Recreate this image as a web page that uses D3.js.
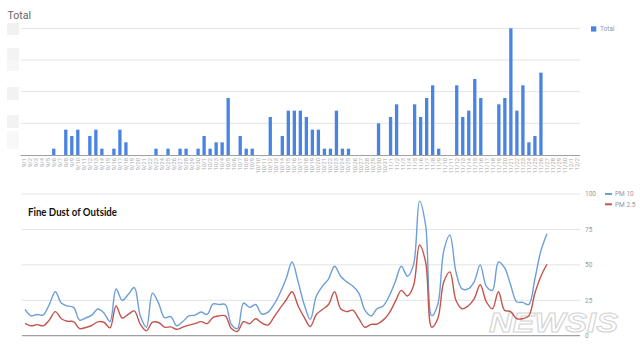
<!DOCTYPE html>
<html><head><meta charset="utf-8">
<script src="https://cdn.jsdelivr.net/npm/d3@7"></script>
<style>body{margin:0;background:#fff}svg{display:block}</style>
</head><body><svg id="c" width="640" height="353"></svg>
<script>
const days = ["9/1","9/2","9/3","9/4","9/5","9/6","9/7","9/8","9/9","9/10","9/11","9/12","9/13","9/14","9/15","9/16","9/17","9/18","9/19","9/20","9/21","9/22","9/23","9/24","9/25","9/26","9/27","9/28","9/29","9/30",
"10/1","10/2","10/3","10/4","10/5","10/6","10/7","10/8","10/9","10/10","10/11","10/12","10/13","10/14","10/15","10/16","10/17","10/18","10/19","10/20","10/21","10/22","10/23","10/24","10/25","10/26","10/27","10/28","10/29","10/30","10/31",
"11/1","11/2","11/3","11/4","11/5","11/6","11/7","11/8","11/9","11/10","11/11","11/12","11/13","11/14","11/15","11/16","11/17","11/18","11/19","11/20","11/21","11/22","11/23","11/24","11/25","11/26","11/27","11/28","11/29","11/30","12/1","12/2"];
const total = [0,0,0,0,0,1,0,4,3,4,0,3,4,1,0,1,4,2,0,0,0,0,1,0,1,0,1,1,0,1,
3,1,2,2,9,0,3,1,1,0,0,6,0,3,7,7,7,6,4,4,1,1,7,1,1,0,0,0,0,5,0,
6,8,0,0,8,6,9,11,1,0,0,11,6,7,12,9,0,0,8,9,20,7,11,2,3,13,0,0,0,0,0,0];
const totalTicks = [0,5,10,15,20];
const lineDays = days.slice(0, 87);
const pm10 = [18.6,14,15,14.6,22,31,23,21,20,11,12.5,14.5,18.8,16,10,33,25,29,34,14,6,30,23,12.7,13.5,7,10,14,14.5,16.7,15,22.4,22,22,8,5,23,20,22,15.3,16.5,22,30,40,52,38,22,11.5,28,35,40,49,42,38,35,30,18,14,19,21,28,38,49,42,50,95,78,14,22,60,71,45,33,33,38,50,35,32,52,48,36,24,23.5,22,40,60,72];
const pm25 = [8.7,7,7.8,7,11,17,12,10.2,10,5,5.8,7.2,9.8,9.5,5.5,21,12.5,15,17.5,8,3.5,9.5,9.3,6,6.2,4.5,6,7.5,8.5,9.9,8.5,13,14,14,5,3,9.9,8.5,12,9,7.5,13,19.3,25,31,21,13,6.5,15,18.5,22,31,19,17,18,12,6,8,8.2,11,16,24,32,28,35,64,52,6,12,38,45,25,19,21,26,36,24,19,31,18,17,12,12,14,30,42,50.4];
const dustTicks = [0,25,50,75,100];
const seriesNames = ["PM 10","PM 2.5"];

const svg = d3.select("#c");
svg.append("rect").attr("width",640).attr("height",353).attr("fill","#fff");

// ---------- Top chart ----------
const x1 = d3.scaleBand().domain(days).range([20.7,580]).paddingInner(0.45).paddingOuter(0.22);
const y1 = d3.scaleLinear().domain([0,20]).range([155,28.3]);
const gTop = svg.append("g");
[[23,12,"#f1f1f1"],[48,12,"#f3f3f3"],[60,11,"#f7f7f7"],[87,13,"#f2f2f2"],[115,13,"#f2f2f2"],[131,18,"#f8f8f8"]].forEach(r=>{
  gTop.append("rect").attr("x",7).attr("y",r[0]).attr("width",12).attr("height",r[1]).attr("fill",r[2]);
});
gTop.append("g").selectAll("line").data(totalTicks.slice(1)).join("line")
  .attr("x1",20.7).attr("x2",580).attr("y1",d=>y1(d)).attr("y2",d=>y1(d))
  .attr("stroke","#e3e3e3").attr("stroke-width",1);
gTop.append("g").selectAll("rect").data(days).join("rect")
  .attr("x",d=>x1(d)).attr("width",x1.bandwidth())
  .attr("y",(d,i)=>y1(total[i])).attr("height",(d,i)=>y1(0)-y1(total[i]))
  .attr("fill","#4a84e2");
gTop.append("line").attr("x1",20.7).attr("x2",580).attr("y1",155.5).attr("y2",155.5).attr("stroke","#a0a0a0").attr("stroke-width",1);
gTop.append("g").selectAll("text").data(days).join("text")
  .attr("transform",d=>`translate(${x1(d)+x1.bandwidth()/2},158) rotate(-90)`)
  .attr("text-anchor","end").attr("dy","0.35em")
  .attr("font-family","Roboto, Arial, sans-serif").attr("font-size",5.8).attr("fill","#a8a8a8")
  .text(d=>d);
gTop.append("text").attr("x",7.5).attr("y",18.5).attr("font-family","Roboto, Arial, sans-serif")
  .attr("font-size",10.5).attr("fill","#666").text("Total");
gTop.append("rect").attr("x",591).attr("y",26.3).attr("width",5.3).attr("height",5.3).attr("fill","#4a84e2");
gTop.append("text").attr("x",600).attr("y",31).attr("font-family","Roboto, Arial, sans-serif")
  .attr("font-size",6.5).attr("fill","#999").text("Total");

// ---------- Bottom chart ----------
const x2 = d3.scalePoint().domain(lineDays).range([25,547]);
const y2 = d3.scaleLinear().domain([0,100]).range([335.7,194]);
const gBot = svg.append("g");
gBot.append("g").selectAll("line").data(dustTicks.slice(1)).join("line")
  .attr("x1",22).attr("x2",580).attr("y1",d=>y2(d)).attr("y2",d=>y2(d))
  .attr("stroke","#e3e3e3").attr("stroke-width",1);
gBot.append("line").attr("x1",22).attr("x2",580).attr("y1",y2(0)).attr("y2",y2(0)).attr("stroke","#a0a0a0").attr("stroke-width",1.2);
// watermark (drawn under the axis labels)
gBot.append("text").attr("x",489).attr("y",332).attr("font-family","'Liberation Sans Narrow','Liberation Sans',sans-serif")
  .attr("font-weight","bold").attr("font-style","italic").attr("font-size",27)
  .attr("textLength",129).attr("lengthAdjust","spacingAndGlyphs")
  .attr("fill","#fff").attr("stroke","#cfcfcf").attr("stroke-width",1).attr("opacity",0.9).text("NEWSIS");
gBot.append("g").selectAll("text").data(dustTicks).join("text")
  .attr("x",585).attr("y",d=>y2(d)).attr("dy","0.35em")
  .attr("font-family","Roboto, Arial, sans-serif").attr("font-size",6.5).attr("fill","#999")
  .text(d=>d);
const line = d3.line().curve(d3.curveCatmullRom.alpha(0.5));
const colors = ["#6c9ed8","#c4544e"];
[pm10,pm25].forEach((s,k)=>{
  gBot.append("path").attr("d",line(lineDays.map((d,i)=>[x2(d),y2(s[i])])))
    .attr("fill","none").attr("stroke",colors[k]).attr("stroke-width",1.4);
});
gBot.append("text").attr("x",28).attr("y",216).attr("font-family","Lato, 'Noto Sans', sans-serif")
  .attr("font-weight","bold").attr("font-size",10.5).attr("textLength",89).attr("lengthAdjust","spacingAndGlyphs")
  .attr("fill","#111").text("Fine Dust of Outside");
seriesNames.forEach((n,k)=>{
  const yy = 194 + k*10.3;
  gBot.append("line").attr("x1",605).attr("x2",612).attr("y1",yy).attr("y2",yy).attr("stroke",colors[k]).attr("stroke-width",2);
  gBot.append("text").attr("x",615).attr("y",yy).attr("dy","0.35em").attr("font-family","Roboto, Arial, sans-serif")
    .attr("font-size",6.5).attr("fill","#999").text(n);
});
</script></body></html>
